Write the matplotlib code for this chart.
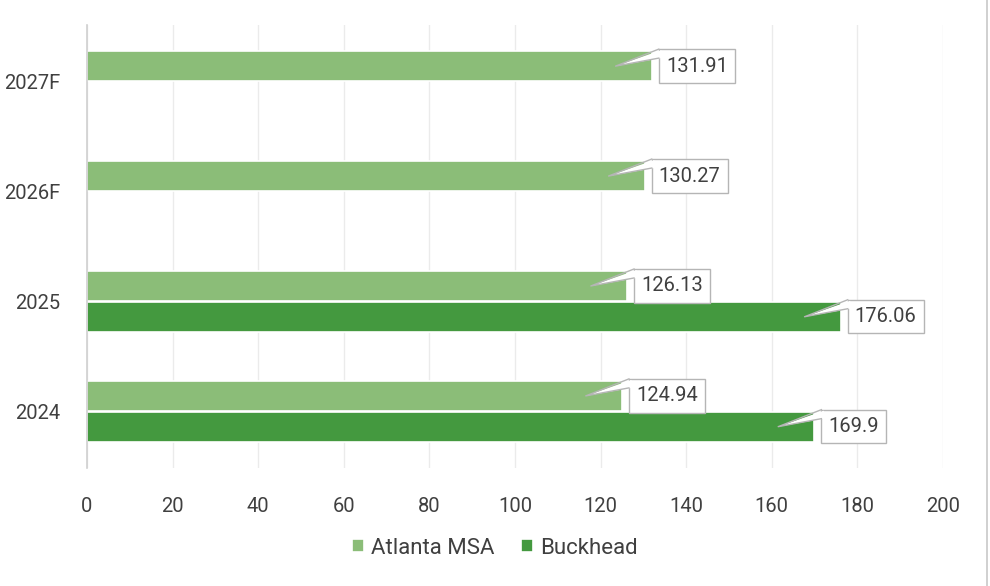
import matplotlib
matplotlib.use("Agg")
import matplotlib.pyplot as plt
import matplotlib.transforms as mtransforms
from matplotlib.patches import Polygon
from matplotlib.lines import Line2D
import numpy as np

categories = ["2024", "2025", "2026F", "2027F"]
series_names = ["Atlanta MSA", "Buckhead"]
atlanta = [124.94, 126.13, 130.27, 131.91]
buckhead = [169.9, 176.06, None, None]
atlanta_labels = ["124.94", "126.13", "130.27", "131.91"]
buckhead_labels = ["169.9", "176.06", None, None]
x_ticks = [0, 20, 40, 60, 80, 100, 120, 140, 160, 180, 200]

c_light = "#8bbd78"
c_dark = "#44993f"
txt_col = "#404040"

plt.rcParams["font.family"] = ["Roboto", "DejaVu Sans"]

fig = plt.figure(figsize=(9.9, 5.86), dpi=100)
ax = fig.add_axes([87/990, 1-468/586, (943-87)/990, (468-25)/586])

y = np.arange(len(categories))
h = 0.27
off = 0.14

a_vals = np.array(atlanta, dtype=float)
ax.barh(y + off, a_vals, height=h, color=c_light, edgecolor="white", linewidth=1.2, zorder=2, label=series_names[0])
b_idx = [i for i, v in enumerate(buckhead) if v is not None]
b_vals = [buckhead[i] for i in b_idx]
ax.barh(y[b_idx] - off, b_vals, height=h, color=c_dark, edgecolor="white", linewidth=1.2, zorder=2, label=series_names[1])

ax.set_xlim(0, 200)
ax.set_ylim(-0.516, 3.514)
ax.set_xticks(x_ticks)
ax.set_xticklabels([str(t) for t in x_ticks])
ax.set_yticks(y)
ax.set_yticklabels(categories)
ax.tick_params(axis="both", length=0, labelsize=14.5, colors=txt_col)
ax.tick_params(axis="y", pad=19)
ax.tick_params(axis="x", pad=21)
ax.grid(axis="x", color="#ebebeb", linewidth=1, zorder=0)
ax.set_axisbelow(True)
for s in ["top", "right", "bottom"]:
    ax.spines[s].set_visible(False)
ax.spines["left"].set_color("#d0d0d0")
ax.spines["left"].set_linewidth(1.2)
ax.spines["left"].set_zorder(3)

fs = 14.5
pad = 0.36
pad_px = pad * fs * 100 / 72


def callout(v, yc, label):
    gap = 7
    ax.annotate(label, xy=(v, yc), xycoords="data",
                xytext=((gap + pad_px) * 0.72, 0), textcoords="offset points",
                ha="left", va="center", fontsize=fs, color=txt_col, zorder=5,
                bbox=dict(boxstyle="square,pad=%g" % pad, fc="white", ec="#b5b5b5", lw=1.0))
    tr = mtransforms.Affine2D() + mtransforms.ScaledTranslation(v, yc, ax.transData)
    tip = (-36, 0)
    b1 = (gap + 0.2, 17)
    b2 = (gap + 0.2, 8)
    fill = Polygon([(b1[0] + 2.5, b1[1] - 1), tip, (b2[0] + 2.5, b2[1])], closed=True,
                   fc="white", ec="none", transform=tr, zorder=6, clip_on=False)
    ax.add_patch(fill)
    ln = Line2D([b1[0], tip[0], b2[0]], [b1[1], tip[1], b2[1]], color="#b5b5b5", lw=1.0,
                transform=tr, zorder=7, clip_on=False)
    ax.add_line(ln)


for i, v in enumerate(atlanta):
    callout(v, y[i] + off, atlanta_labels[i])
for i in b_idx:
    callout(buckhead[i], y[i] - off, buckhead_labels[i])

leg = fig.legend(loc="center", bbox_to_anchor=(495/990, 1-548/586), ncol=2, frameon=False,
                 fontsize=16, handlelength=0.55, handleheight=0.55, handletextpad=0.3,
                 columnspacing=1.2, labelcolor=txt_col)

fig.add_artist(Line2D([987/990, 987/990], [0, 1], transform=fig.transFigure, color="#c8c8c8", lw=1.2))

fig.savefig("out.png", dpi=100, facecolor="white")
